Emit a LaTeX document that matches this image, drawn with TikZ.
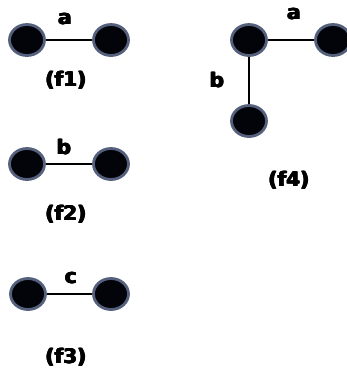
\documentclass[tikz,border=0pt]{standalone}
\usepackage{fontspec}
\setmainfont{DejaVu Sans}
\usetikzlibrary{shapes.geometric}
\definecolor{vfill}{HTML}{03040A}
\definecolor{vring}{HTML}{55617C}
\newcommand\heavytext[1]{\leavevmode\rlap{\kern1.2pt#1}\rlap{\kern0.6pt#1}\rlap{\kern0.6pt\raisebox{0.5pt}{#1}}\rlap{\raisebox{0.5pt}{#1}}#1\kern1.2pt}
\tikzset{
  vert/.style={ellipse, minimum width=35pt, minimum height=31pt, inner sep=0pt,
    fill=vfill, draw=vring, line width=2.8pt},
  edge/.style={line width=2.4pt, black},
  lbl/.style={font=\fontsize{20}{20}\selectfont\bfseries, inner sep=0pt}
}
\begin{document}
\begin{tikzpicture}[x=1pt,y=-1pt]
\useasboundingbox (0,0) rectangle (346,370);
% f1
\node[vert] (a1) at (27,40) {};
\node[vert] (b1) at (111,40) {};
\draw[edge] (a1) -- (b1);
\node[lbl] (la1) at (65,19) {\heavytext{a}};
\node[lbl] (f1) at (66,80) {\heavytext{(f1)}};
% f2
\node[vert] (a2) at (27,164) {};
\node[vert] (b2) at (111,164) {};
\draw[edge] (a2) -- (b2);
\node[lbl] (lb2) at (64,147) {\heavytext{b}};
\node[lbl] (f2) at (66,214) {\heavytext{(f2)}};
% f3
\node[vert] (a3) at (28,294) {};
\node[vert] (b3) at (111,294) {};
\draw[edge] (a3) -- (b3);
\node[lbl] (lc3) at (71,278) {\heavytext{c}};
\node[lbl] (f3) at (66,357) {\heavytext{(f3)}};
% f4
\node[vert] (c4) at (249,40) {};
\node[vert] (d4) at (333,40) {};
\node[vert] (e4) at (249,121) {};
\draw[edge] (c4) -- (d4);
\draw[edge] (c4) -- (e4);
\node[lbl] (la4) at (294,14) {\heavytext{a}};
\node[lbl] (lb4) at (217,80) {\heavytext{b}};
\node[lbl] (f4) at (289,180) {\heavytext{(f4)}};
\end{tikzpicture}
\end{document}
